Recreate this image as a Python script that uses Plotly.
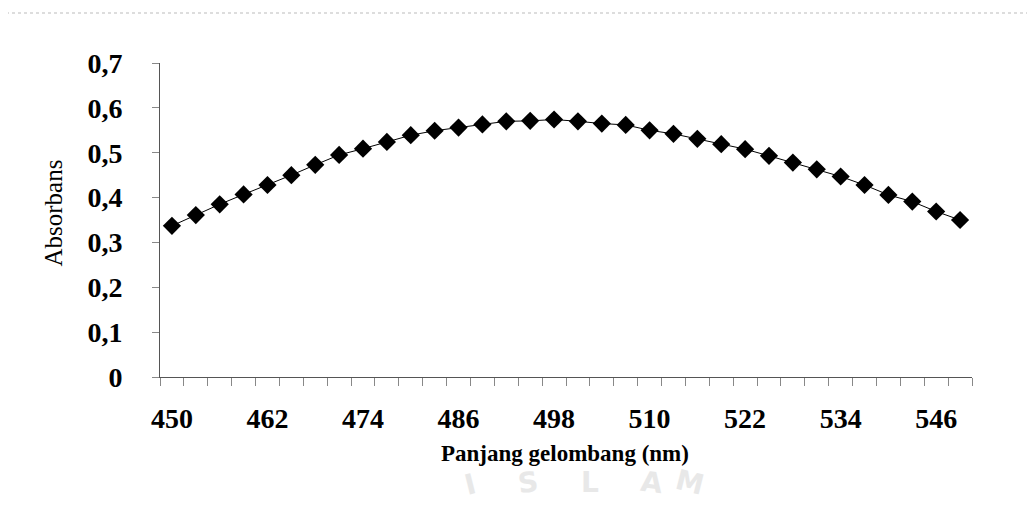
import plotly.graph_objects as go

wavelength = list(range(450, 550, 3))
absorbans = [0.337, 0.361, 0.385, 0.407, 0.428, 0.450, 0.473, 0.495, 0.509,
             0.524, 0.539, 0.549, 0.556, 0.563, 0.570, 0.571, 0.574, 0.570,
             0.565, 0.562, 0.550, 0.542, 0.531, 0.519, 0.508, 0.493, 0.478,
             0.463, 0.447, 0.428, 0.406, 0.391, 0.369, 0.350]
x_ticks = list(range(450, 547, 12))
y_ticks = [0, 0.1, 0.2, 0.3, 0.4, 0.5, 0.6, 0.7]
y_labels = ["0", "0,1", "0,2", "0,3", "0,4", "0,5", "0,6", "0,7"]
watermark = ["I", "S", "L", "A", "M"]

W, H = 1035, 514
OFF = 8  # page offset of the figure div
# plot area in page pixels: left 160, right 972, top 63, bottom 377
L = 160 - OFF
T = 63 - OFF
R = W - (972 - OFF)
B = H - (377 - OFF)
pw = W - L - R
ph = H - T - B

def px(xp):
    return (xp - OFF - L) / pw

def py(yp):
    return (H - B - (yp - OFF)) / ph

fig = go.Figure()
fig.add_trace(go.Scatter(
    x=wavelength, y=absorbans, mode="lines+markers",
    line=dict(color="black", width=1),
    marker=dict(symbol="diamond", size=14, color="black"),
    showlegend=False, cliponaxis=False,
))

serif = "Liberation Serif"
fig.update_layout(
    width=W, height=H,
    margin=dict(l=L, r=R, t=T, b=B),
    paper_bgcolor="white", plot_bgcolor="white",
    xaxis=dict(
        range=[448.5, 550.5], tickvals=x_ticks, ticktext=[str(v) for v in x_ticks],
        ticks="outside", ticklen=0, showgrid=False, zeroline=False,
        showline=True, linecolor="#555", linewidth=1,
        tickfont=dict(family=serif, size=28, color="black", weight="bold"),
        ticklabelstandoff=16,
        minor=dict(tick0=448.5, dtick=3, ticks="outside", ticklen=8,
                   tickcolor="#888", showgrid=False),
    ),
    yaxis=dict(
        range=[0, 0.7], tickvals=y_ticks, ticktext=y_labels,
        ticks="outside", ticklen=7, tickcolor="#888", showgrid=False,
        zeroline=False, showline=True, linecolor="#555", linewidth=1,
        tickfont=dict(family=serif, size=28, color="black", weight="bold"),
        ticklabelstandoff=24,
    ),
)

angles = [-14, -7, 0, 7, 14]
xs = [470, 528, 590, 652, 710]
ys = [504, 502, 501, 502, 504]
for ch, a, xx, yy in zip(watermark, angles, xs, ys):
    fig.add_annotation(x=px(xx), y=py(yy), xref="paper", yref="paper",
                       text=ch, showarrow=False, textangle=a,
                       font=dict(family="DejaVu Sans", size=28, color="#e8e8e8", weight="bold"))

fig.add_annotation(x=px(565), y=py(468), xref="paper", yref="paper",
                   text="Panjang gelombang (nm)", showarrow=False,
                   font=dict(family=serif, size=23, color="black", weight="bold"))
fig.add_annotation(x=px(37), y=py(213), xref="paper", yref="paper",
                   text="Absorbans", showarrow=False, textangle=-90,
                   font=dict(family=serif, size=25, color="black"))

fig.add_shape(type="line", xref="paper", yref="paper",
              x0=px(6), x1=px(6), y0=py(11), y1=py(514),
              line=dict(color="#333", width=1))
fig.add_shape(type="line", xref="paper", yref="paper",
              x0=px(6), x1=px(1030), y0=py(13), y1=py(13),
              line=dict(color="#bbb", width=1, dash="dot"))

fig.write_html("out.html")
